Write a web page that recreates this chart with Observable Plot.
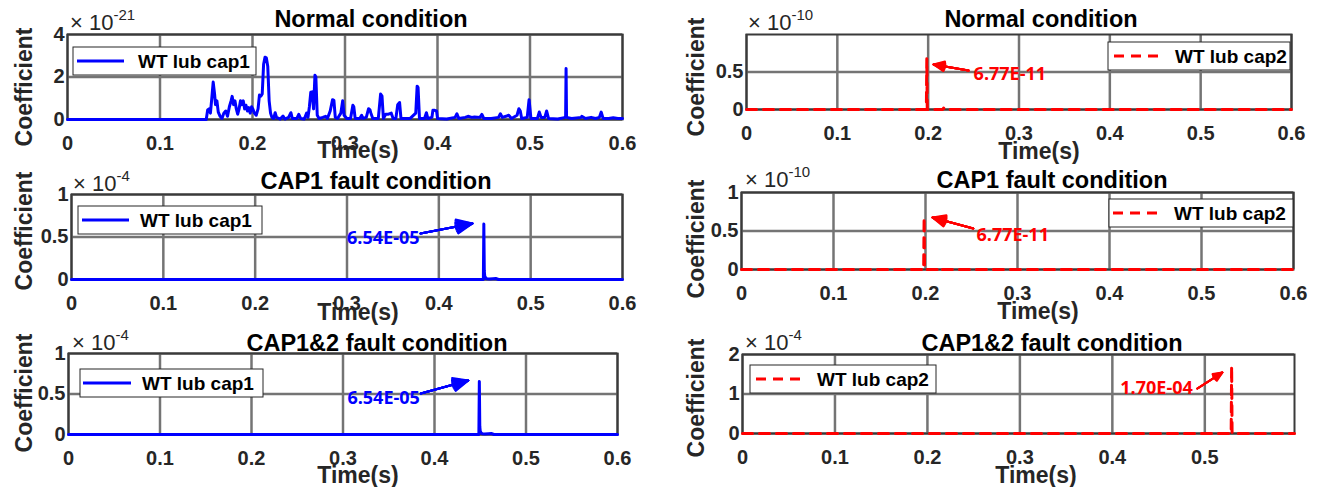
<!DOCTYPE html>
<html><head><meta charset="utf-8">
<script src="https://cdn.jsdelivr.net/npm/d3@7"></script>
<script src="https://cdn.jsdelivr.net/npm/@observablehq/plot@0.6"></script>
<style>
html,body{margin:0;padding:0;background:#fff;}
#chart{position:relative;width:1329px;height:487px;overflow:hidden;background:#fff;}
#chart svg{position:absolute;left:0;top:0;overflow:visible;}
</style></head><body><div id="chart"></div>
<script>
// ---------------- data ----------------
const timeTicks = [0, 0.1, 0.2, 0.3, 0.4, 0.5, 0.6];
const timeTicksShort = [0, 0.1, 0.2, 0.3, 0.4, 0.5];
const panelTitles = ["Normal condition", "CAP1 fault condition", "CAP1&2 fault condition"];
const legendLabels = ["WT lub cap1", "WT lub cap2"];
const exponentLabels = ["-21", "-10", "-4", "-10", "-4", "-4"];
const peakLabels = ["6.54E-05", "6.77E-11", "1.70E-04"];
const yTicksNormalCap1 = [0, 2, 4];
const yTicksNormalCap2 = [0, 0.5];
const yTicksUnit = [0, 0.5, 1];
const yTicksCap12Cap2 = [0, 1, 2];

// Normal condition, WT lub cap1 (x 1e-21)
const normalCap1Time = [0,0.150,0.1515,0.153,0.1545,0.156,0.1575,0.159,0.160,0.1615,0.163,0.165,0.167,0.169,0.171,0.173,0.175,0.177,0.178,0.1795,0.181,0.1825,0.184,0.1855,0.187,0.1885,0.190,0.1915,0.193,0.1945,0.196,0.1975,0.199,0.2005,0.202,0.204,0.206,0.2075,0.209,0.2105,0.212,0.2135,0.215,0.2165,0.218,0.2195,0.221,0.223,0.2245,0.226,0.230,0.233,0.235,0.239,0.2415,0.243,0.248,0.250,0.252,0.256,0.2585,0.260,0.2615,0.263,0.2645,0.266,0.2675,0.2685,0.270,0.272,0.276,0.279,0.281,0.284,0.2865,0.288,0.2895,0.292,0.2955,0.2975,0.299,0.302,0.306,0.3085,0.3095,0.311,0.316,0.318,0.3195,0.323,0.3255,0.327,0.328,0.330,0.336,0.3385,0.340,0.3415,0.344,0.347,0.350,0.352,0.355,0.357,0.359,0.3605,0.366,0.3705,0.3765,0.378,0.379,0.3805,0.386,0.388,0.3895,0.394,0.395,0.397,0.399,0.400,0.410,0.419,0.421,0.423,0.430,0.433,0.437,0.440,0.446,0.448,0.450,0.458,0.466,0.468,0.470,0.474,0.477,0.480,0.486,0.488,0.4895,0.491,0.497,0.499,0.500,0.501,0.508,0.510,0.512,0.516,0.518,0.520,0.530,0.5385,0.539,0.5395,0.545,0.5555,0.556,0.560,0.566,0.571,0.575,0.577,0.579,0.585,0.590,0.595,0.6];
const normalCap1Coef = [0,0,0.45,0.5,0.3,1.0,1.76,1.2,0.7,0.88,0.35,0.15,0.05,0.3,0.4,0.15,0.6,0.9,1.09,0.7,0.88,0.5,0.25,0.5,0.88,0.7,0.88,0.5,0.67,0.4,0.56,0.3,0.6,0.48,0.3,0.2,0.5,1.15,1.1,1.2,2.6,2.93,2.9,2.5,0.88,0.3,0.1,0.05,0.32,0.1,0.02,0.16,0.02,0.1,0.32,0.05,0.05,0.24,0.05,0.02,0.3,0.1,0.6,1.28,1.3,0.5,2.08,2.0,0.2,0.05,0.1,0.15,0.05,0.4,0.93,0.9,0.1,0.05,0.3,0.88,0.2,0.05,0.05,0.67,0.6,0.05,0.05,0.2,0.05,0.1,0.51,0.45,0.3,0.05,0.05,1.2,1.1,0.05,0.25,0.25,0.3,0.05,0.05,0.7,0.8,0.05,0.05,0.05,0.3,1.57,1.5,0.05,0.05,0.32,0.05,0.1,0.43,0.43,0.4,0.05,0.02,0.1,0.27,0.05,0.1,0.15,0.1,0.12,0.1,0.24,0.05,0.05,0.1,0.27,0.1,0.15,0.2,0.05,0.2,0.51,0.4,0.05,0.1,0.93,0.5,0.05,0.05,0.35,0.1,0.1,0.4,0.05,0.02,0.1,2.4,0.1,0.05,0.1,0.15,0.05,0.1,0.05,0.1,0.35,0.05,0.05,0.08,0.05,0.05];

// WT lub cap2 in normal and CAP1 fault conditions (x 1e-10)
const cap2SpikeTime = [0, 0.198, 0.1985, 0.199, 0.216, 0.217, 0.218, 0.6];
const cap2SpikeCoef = [0, 0, 0.677, 0, 0, 0.02, 0, 0];

// WT lub cap1 in CAP1 and CAP1&2 fault conditions (x 1e-4)
const cap1FaultTime = [0, 0.4485, 0.449, 0.4495, 0.450, 0.451, 0.452, 0.455, 0.459, 0.462, 0.465, 0.6];
const cap1FaultCoef = [0, 0, 0.654, 0.1, 0.04, 0.02, 0.01, 0.005, 0.01, 0.012, 0, 0];

// WT lub cap2 in CAP1&2 fault condition (x 1e-4)
const cap12Cap2Time = [0, 0.5285, 0.529, 0.5295, 0.531, 0.532, 0.533, 0.597];
const cap12Cap2Coef = [0, 0, 1.70, 0.02, 0, 0.015, 0, 0];

// ---------------- layout ----------------
const W = 1329, H = 487;
const BLUE = "#0000ff", RED = "#ff0000";
const MAIN_FONT = "'Liberation Sans', Arial, Helvetica, sans-serif";
const NOTE_FONT = "'Open Sans', 'Liberation Sans', sans-serif";

const panels = [
  {box:[67,34,622,119], xDomain:[0,0.6], xTicks:timeTicks, yDomain:[0,4], yTicks:yTicksNormalCap1,
   t:normalCap1Time, v:normalCap1Coef, color:BLUE, dash:null, title:panelTitles[0], titlePos:[371,27],
   exp:exponentLabels[0], expPos:[70,30], xlabPos:[358,158], ylabPos:[32,87],
   legend:{label:legendLabels[0], box:[73,47,256,75], line:[77,124,61], textX:138}, note:null},
  {box:[746,34,1291,109], xDomain:[0,0.6], xTicks:timeTicks, yDomain:[0,1], yTicks:yTicksNormalCap2,
   t:cap2SpikeTime, v:cap2SpikeCoef, color:RED, dash:"10,7", title:panelTitles[0], titlePos:[1041,27],
   exp:exponentLabels[1], expPos:[748,30], xlabPos:[1039,159], ylabPos:[704,77],
   legend:{label:legendLabels[1], box:[1108,42,1290,70], line:[1114,1158,56], textX:1175},
   note:{label:peakLabels[1], x1:0.2444, y1:0.52, x2:0.2059, y2:0.60, tx:0.25, ty:0.467, anchor:"start"}},
  {box:[71,194,622,279], xDomain:[0,0.6], xTicks:timeTicks, yDomain:[0,1], yTicks:yTicksUnit,
   t:cap1FaultTime, v:cap1FaultCoef, color:BLUE, dash:null, title:panelTitles[1], titlePos:[376,189],
   exp:exponentLabels[2], expPos:[73,191], xlabPos:[358,320], ylabPos:[32,231],
   legend:{label:legendLabels[0], box:[78,206,262,234], line:[82,129,220], textX:140},
   note:{label:peakLabels[0], x1:0.380, y1:0.541, x2:0.4367, y2:0.659, tx:0.379, ty:0.48, anchor:"end"}},
  {box:[741,192,1293,269], xDomain:[0,0.6], xTicks:timeTicks, yDomain:[0,1], yTicks:yTicksUnit,
   t:cap2SpikeTime, v:cap2SpikeCoef, color:RED, dash:"10,7", title:panelTitles[1], titlePos:[1052,188],
   exp:exponentLabels[3], expPos:[745,187], xlabPos:[1038,319], ylabPos:[704,239],
   legend:{label:legendLabels[1], box:[1109,199,1293,227], line:[1113,1160,213], textX:1174},
   note:{label:peakLabels[1], x1:0.252, y1:0.532, x2:0.2076, y2:0.675, tx:0.2554, ty:0.45, anchor:"start"}},
  {box:[68,353,617,434], xDomain:[0,0.6], xTicks:timeTicks, yDomain:[0,1], yTicks:yTicksUnit,
   t:cap1FaultTime, v:cap1FaultCoef, color:BLUE, dash:null, title:panelTitles[2], titlePos:[377,351],
   exp:exponentLabels[4], expPos:[72,350], xlabPos:[358,483], ylabPos:[32,393],
   legend:{label:legendLabels[0], box:[80,369,263,397], line:[83,131,383], textX:142},
   note:{label:peakLabels[0], x1:0.385, y1:0.506, x2:0.437, y2:0.667, tx:0.384, ty:0.444, anchor:"end"}},
  {box:[742,354,1294,433], xDomain:[0,0.597], xTicks:timeTicksShort, yDomain:[0,2], yTicks:yTicksCap12Cap2,
   t:cap12Cap2Time, v:cap12Cap2Coef, color:RED, dash:"10,7", title:panelTitles[2], titlePos:[1052,351],
   exp:exponentLabels[5], expPos:[745,350], xlabPos:[1036,483], ylabPos:[704,398],
   legend:{label:legendLabels[1], box:[750,365,936,393], line:[756,801,379], textX:817},
   note:{label:peakLabels[2], x1:0.492, y1:1.14, x2:0.519, y2:1.544, tx:0.487, ty:1.14, anchor:"end"}}
];

const fmt = d3.format("~g");
const chart = document.getElementById("chart");

for (const p of panels) {
  const [l, t, r, b] = p.box;
  const rows = p.t.map((tt, i) => ({time: tt, coef: p.v[i]}));
  const marks = [
    Plot.gridX(p.xTicks, {stroke: "#747474", strokeOpacity: 1, strokeWidth: 2.5}),
    Plot.gridY(p.yTicks, {stroke: "#747474", strokeOpacity: 1, strokeWidth: 2.5}),
    Plot.frame({stroke: "#3a3a3a", strokeWidth: 2}),
    Plot.axisX(p.xTicks, {tickSize: 0, tickPadding: 16, tickFormat: fmt, fill: "#262626",
      fontSize: 20, fontWeight: "bold", fontFamily: MAIN_FONT}),
    Plot.axisY(p.yTicks, {tickSize: 0, tickPadding: 3, tickFormat: fmt, fill: "#262626",
      fontSize: 20, fontWeight: "bold", fontFamily: MAIN_FONT}),
    Plot.line(rows, {x: "time", y: "coef", stroke: p.color, strokeWidth: 3,
      strokeDasharray: p.dash || undefined, curve: "linear"})
  ];
  if (p.note) {
    const n = p.note;
    for (const ang of [10, 20, 30, 40, 48]) {
      marks.push(Plot.arrow([n], {x1: "x1", y1: "y1", x2: "x2", y2: "y2", stroke: p.color,
        strokeWidth: 2, headLength: 13, headAngle: ang}));
    }
    marks.push(Plot.text([n], {x: "tx", y: "ty", text: "label", fill: p.color, textAnchor: n.anchor,
      fontFamily: NOTE_FONT, fontWeight: "bold", fontSize: 18}));
  }
  const svg = Plot.plot({
    width: W, height: H,
    marginLeft: l, marginRight: W - r, marginTop: t, marginBottom: H - b,
    style: {background: "transparent", overflow: "visible", fontFamily: MAIN_FONT,
      fontSize: "20px", fontWeight: "bold", color: "#262626"},
    x: {domain: p.xDomain, label: null},
    y: {domain: p.yDomain, label: null},
    marks
  });
  chart.appendChild(svg);
}

// overlay with titles, labels, exponents and legends
const overlay = d3.create("svg").attr("width", W).attr("height", H)
  .attr("font-family", MAIN_FONT);
for (const p of panels) {
  overlay.append("text").attr("x", p.titlePos[0]).attr("y", p.titlePos[1])
    .attr("text-anchor", "middle").attr("font-size", 23.5).attr("font-weight", "bold")
    .attr("fill", "#000").text(p.title);
  overlay.append("text").attr("x", p.xlabPos[0]).attr("y", p.xlabPos[1])
    .attr("text-anchor", "middle").attr("font-size", 23).attr("font-weight", "bold")
    .attr("fill", "#262626").text("Time(s)");
  overlay.append("text").attr("transform", `translate(${p.ylabPos[0]},${p.ylabPos[1]}) rotate(-90)`)
    .attr("text-anchor", "middle").attr("font-size", 23).attr("font-weight", "bold")
    .attr("fill", "#262626").text("Coefficient");
  const ex = overlay.append("text").attr("x", p.expPos[0]).attr("y", p.expPos[1])
    .attr("font-size", 22).attr("fill", "#262626");
  ex.append("tspan").text("\u00d7 10");
  ex.append("tspan").attr("dy", -10).attr("font-size", 15).text(p.exp);
  const lg = p.legend;
  overlay.append("rect").attr("x", lg.box[0]).attr("y", lg.box[1])
    .attr("width", lg.box[2] - lg.box[0]).attr("height", lg.box[3] - lg.box[1])
    .attr("fill", "#fff").attr("stroke", "#262626").attr("stroke-width", 1);
  overlay.append("line").attr("x1", lg.line[0]).attr("x2", lg.line[1])
    .attr("y1", lg.line[2]).attr("y2", lg.line[2]).attr("stroke", p.color).attr("stroke-width", 3)
    .attr("stroke-dasharray", p.dash);
  overlay.append("text").attr("x", lg.textX).attr("y", lg.line[2]).attr("dy", "0.36em")
    .attr("font-size", 19).attr("font-weight", "bold").attr("fill", "#000").text(lg.label);
}
chart.appendChild(overlay.node());
</script></body></html>
